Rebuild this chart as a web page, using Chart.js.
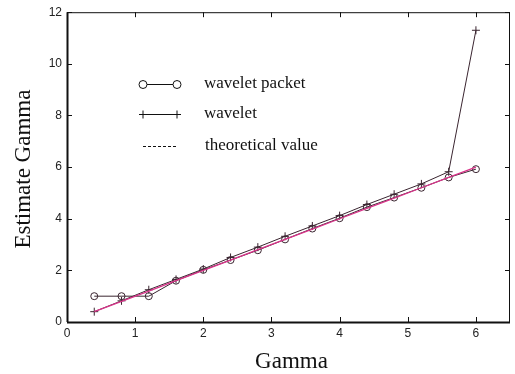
<!DOCTYPE html>
<html>
<head>
<meta charset="utf-8">
<script src="https://cdn.jsdelivr.net/npm/chart.js@4"></script>
<style>
  html, body { margin: 0; padding: 0; background: #fff; }
  #wrap { width: 515px; height: 374px; }
</style>
</head>
<body>
<div id="wrap"><canvas id="gammaChart" width="515" height="374"></canvas></div>
<script>
const gammaValues = [0.4, 0.8, 1.2, 1.6, 2.0, 2.4, 2.8, 3.2, 3.6, 4.0, 4.4, 4.8, 5.2, 5.6, 6.0];
const packetEst = [1.0, 1.0, 1.0, 1.6, 2.02, 2.4, 2.78, 3.2, 3.62, 4.02, 4.45, 4.82, 5.2, 5.6, 5.92];
const waveletEst = [0.4, 0.82, 1.25, 1.65, 2.05, 2.5, 2.9, 3.32, 3.72, 4.12, 4.55, 4.95, 5.35, 5.82, 11.3];
const theoryVal = [0.4, 0.8, 1.2, 1.6, 2.0, 2.4, 2.8, 3.2, 3.6, 4.0, 4.4, 4.8, 5.2, 5.6, 6.0];
const xTicks = [0, 1, 2, 3, 4, 5, 6];
const yTicks = [0, 2, 4, 6, 8, 10, 12];

const lineCol = '#3a2530';
const theoryCol = '#d9348a';

function pts(ys) {
  return gammaValues.map((x, i) => ({x: x, y: ys[i]}));
}

// box, inward ticks, axis titles and the legend
const framePlugin = {
  id: 'frame',
  afterDraw(chart) {
    const ctx = chart.ctx;
    const a = chart.chartArea;
    const sx = chart.scales.x, sy = chart.scales.y;
    ctx.save();
    ctx.strokeStyle = '#111';
    ctx.lineWidth = 1;
    ctx.strokeRect(a.left + 0.5, a.top + 0.5, a.right - a.left - 1, a.bottom - a.top);
    ctx.beginPath();
    xTicks.forEach(v => {
      const px = Math.round(sx.getPixelForValue(v)) + 0.5;
      ctx.moveTo(px, a.bottom); ctx.lineTo(px, a.bottom - 5);
      ctx.moveTo(px, a.top); ctx.lineTo(px, a.top + 5);
    });
    yTicks.forEach(v => {
      const py = Math.round(sy.getPixelForValue(v)) + 0.5;
      ctx.moveTo(a.left, py); ctx.lineTo(a.left + 5, py);
      ctx.moveTo(a.right, py); ctx.lineTo(a.right - 5, py);
    });
    ctx.stroke();
    ctx.lineWidth = 2;
    ctx.beginPath();
    ctx.moveTo(a.left, a.bottom + 0.5); ctx.lineTo(a.right, a.bottom + 0.5);
    ctx.moveTo(a.left + 0.5, a.top); ctx.lineTo(a.left + 0.5, a.bottom);
    ctx.stroke();

    ctx.fillStyle = '#111';
    ctx.font = '23px "Liberation Serif", "Times New Roman", serif';
    ctx.textAlign = 'center';
    ctx.textBaseline = 'middle';
    ctx.fillText('Gamma', (a.left + a.right) / 2 + 3, 362);
    ctx.translate(24, (a.top + a.bottom) / 2 + 2);
    ctx.rotate(-Math.PI / 2);
    ctx.fillText('Estimate Gamma', 0, 0);
    ctx.restore();

    // legend
    ctx.save();
    ctx.font = '17px "Liberation Serif", "Times New Roman", serif';
    ctx.textAlign = 'left';
    ctx.textBaseline = 'middle';
    ctx.strokeStyle = '#111';
    ctx.fillStyle = '#111';
    const rows = [84, 114, 146];
    chart.data.datasets.forEach((ds, i) => {
      const y = rows[i] + 0.5;
      ctx.lineWidth = 1;
      if (i < 2) {
        ctx.beginPath(); ctx.moveTo(143, y); ctx.lineTo(177, y); ctx.stroke();
        [143, 177].forEach(cx => {
          ctx.beginPath();
          if (i === 0) {
            ctx.arc(cx, y, 4, 0, Math.PI * 2);
            ctx.fillStyle = '#fff'; ctx.fill(); ctx.stroke();
          } else {
            ctx.moveTo(cx - 4, y); ctx.lineTo(cx + 4, y);
            ctx.moveTo(cx, y - 4); ctx.lineTo(cx, y + 4);
            ctx.stroke();
          }
        });
      } else {
        ctx.setLineDash([3, 2]);
        ctx.beginPath(); ctx.moveTo(143, y); ctx.lineTo(176, y); ctx.stroke();
        ctx.setLineDash([]);
      }
      ctx.fillStyle = '#111';
      ctx.fillText(ds.label, i === 2 ? 205 : 204, rows[i]);
    });
    ctx.restore();
  }
};

new Chart(document.getElementById('gammaChart'), {
  type: 'line',
  data: {
    datasets: [{
      label: 'wavelet packet',
      data: pts(packetEst),
      borderColor: lineCol,
      borderWidth: 1,
      pointStyle: 'circle',
      pointRadius: 3.5,
      pointBackgroundColor: 'rgba(255,255,255,0)',
      pointBorderColor: lineCol,
      pointBorderWidth: 1,
      order: 2
    }, {
      label: 'wavelet',
      data: pts(waveletEst),
      borderColor: lineCol,
      borderWidth: 1,
      pointStyle: 'cross',
      pointRadius: 4,
      pointBorderColor: lineCol,
      pointBorderWidth: 1,
      order: 3
    }, {
      label: 'theoretical value',
      data: pts(theoryVal),
      borderColor: theoryCol,
      borderWidth: 1.3,
      pointRadius: 0,
      order: 1
    }]
  },
  options: {
    responsive: false,
    animation: false,
    layout: { padding: { top: 11, right: 2, left: 0, bottom: 0 } },
    plugins: { legend: { display: false }, tooltip: { enabled: false } },
    scales: {
      x: {
        type: 'linear',
        min: 0, max: 6.5,
        afterFit: s => { s.height = 52; },
        afterBuildTicks: s => { s.ticks = xTicks.map(v => ({value: v})); },
        grid: { display: false, drawTicks: false, tickLength: 0 },
        border: { display: false },
        ticks: { color: '#222', padding: 4, font: { family: '"Liberation Sans", Arial, sans-serif', size: 12 } }
      },
      y: {
        type: 'linear',
        min: 0, max: 12,
        afterFit: s => { s.width = 67; },
        afterBuildTicks: s => { s.ticks = yTicks.map(v => ({value: v})); },
        grid: { display: false, drawTicks: false, tickLength: 0 },
        border: { display: false },
        ticks: { color: '#222', padding: 5, font: { family: '"Liberation Sans", Arial, sans-serif', size: 12 } }
      }
    }
  },
  plugins: [framePlugin]
});
</script>
</body>
</html>
